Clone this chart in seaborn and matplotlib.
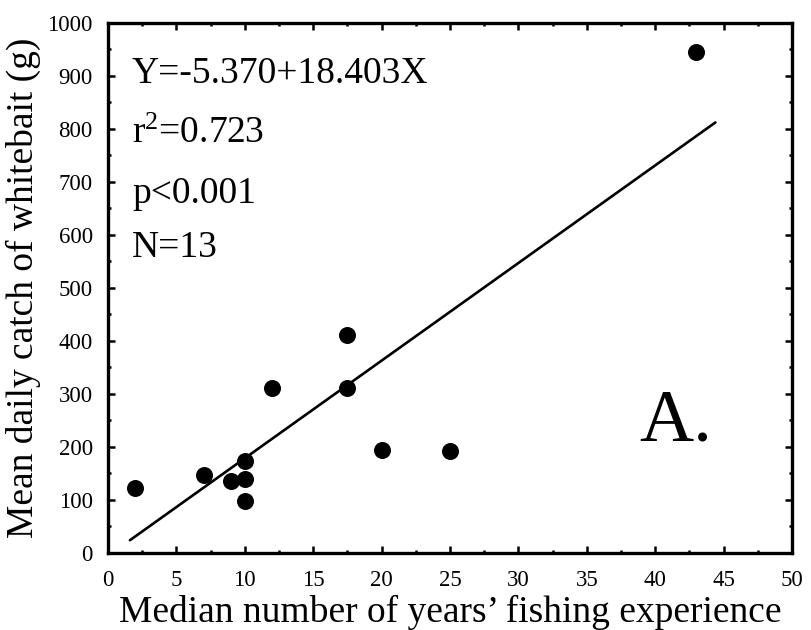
import numpy as np
import pandas as pd
import matplotlib
matplotlib.use("Agg")
import matplotlib.pyplot as plt
from matplotlib.ticker import MultipleLocator
import seaborn as sns

# --- datos ---
years = [2, 7, 9, 10, 10, 10, 12, 17.5, 17.5, 20, 25, 43]
catch = [123, 148, 136, 174, 140, 98, 311, 411, 311, 194, 192, 944]

# recta de regresion (ecuacion impresa en la figura)
intercept = -5.370
slope = 18.403
line_x = [1.6, 44.4]

stats_lines = ["Y=-5.370+18.403X", "r$^{2}$=0.723", "p<0.001", "N=13"]

sns.set_style("ticks")
plt.rcParams['font.family'] = ['Liberation Serif', 'DejaVu Serif']
plt.rcParams['mathtext.default'] = 'regular'
plt.rcParams['text.color'] = 'black'
plt.rcParams['axes.labelcolor'] = 'black'

df = pd.DataFrame({'years': years, 'catch': catch})
line_y = [intercept + slope * x for x in line_x]

fig = plt.figure(figsize=(8.11, 6.30), dpi=100)
ax = fig.add_axes([0.1332, 0.1222, 0.8434, 0.842])

sns.scatterplot(data=df, x='years', y='catch', ax=ax, color='black',
                s=150, edgecolor='black', linewidth=0, zorder=3)
sns.lineplot(x=line_x, y=line_y, ax=ax, color='black', linewidth=1.9)

ax.set_xlim(0, 50)
ax.set_ylim(0, 1000)
ax.xaxis.set_major_locator(MultipleLocator(5))
ax.xaxis.set_minor_locator(MultipleLocator(2.5))
ax.yaxis.set_major_locator(MultipleLocator(100))
ax.yaxis.set_minor_locator(MultipleLocator(50))
ax.tick_params(which='both', direction='in', top=True, right=True,
               width=1.8, color='black', labelcolor='black', labelsize=16.5)
ax.tick_params(axis='x', which='major', pad=12)
ax.tick_params(axis='y', which='major', pad=11)
ax.tick_params(which='major', length=5)
ax.tick_params(which='minor', length=2.5)
for sp in ax.spines.values():
    sp.set_linewidth(2.4)
    sp.set_color('black')
    sp.set_visible(True)

ax.set_xlabel("Median number of years\u2019 fishing experience", fontsize=27, labelpad=3)
ax.set_ylabel("Mean daily catch of whitebait (g)", fontsize=27)
ax.yaxis.set_label_coords(-0.0975, 0.5)

ys = [0.886, 0.773, 0.660, 0.558]
for txt, yy in zip(stats_lines, ys):
    ax.text(0.035, yy, txt, transform=ax.transAxes, fontsize=27, va='baseline', color='black')

ax.text(0.777, 0.213, "A.", transform=ax.transAxes, fontsize=54, va='baseline', color='black')

fig.savefig("out.png", dpi=100)
